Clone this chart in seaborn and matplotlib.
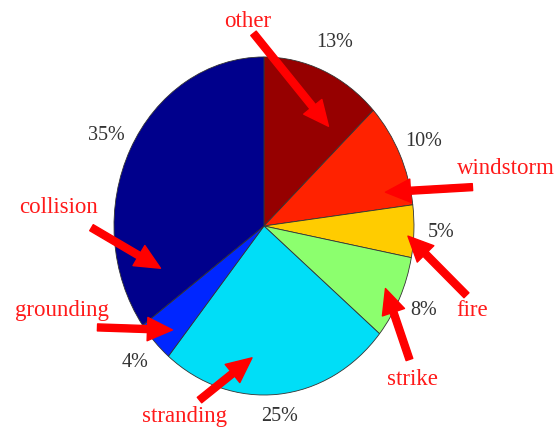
import matplotlib
matplotlib.use("Agg")
import matplotlib.pyplot as plt
import seaborn as sns

sns.set_theme(style="white")
plt.rcParams['font.family'] = ['Liberation Serif', 'DejaVu Serif']

# slices, clockwise from 12 o'clock
categories = ['other', 'windstorm', 'fire', 'strike', 'stranding', 'grounding', 'collision']
shares = [13, 10, 5, 8, 25, 4, 35]
slice_colors = ['#960000', '#ff2200', '#ffcc00', '#8cff6e', '#00def7', '#0026ff', '#00008c']

# where each red label sits and where its arrow runs (pie radius units)
label_pos = {
    'other': (-0.11, 1.21),
    'windstorm': (1.61, 0.34),
    'fire': (1.39, -0.50),
    'strike': (0.99, -0.91),
    'stranding': (-0.53, -1.13),
    'grounding': (-1.35, -0.50),
    'collision': (-1.37, 0.11),
}
arrow_pos = {
    'other': ((-0.07, 1.14), (0.43, 0.59)),
    'windstorm': ((1.39, 0.23), (0.81, 0.20)),
    'fire': ((1.35, -0.41), (0.96, -0.06)),
    'strike': ((0.97, -0.79), (0.81, -0.37)),
    'stranding': ((-0.43, -1.03), (-0.08, -0.78)),
    'grounding': ((-1.11, -0.60), (-0.61, -0.615)),
    'collision': ((-1.15, -0.01), (-0.69, -0.25)),
}


def draw_chart():
    fig = plt.figure(figsize=(5.59, 4.30), dpi=100)
    ax = fig.add_axes([0, 0, 1, 1])

    wedges, texts, pcts = ax.pie(
        shares, colors=slice_colors, startangle=90, counterclock=False,
        autopct='%d%%', pctdistance=1.18,
        wedgeprops=dict(edgecolor='#333333', linewidth=0.6),
        textprops=dict(fontsize=14.5, color='#333333'),
    )
    # the bottom label sits a little closer in the original
    x, y = pcts[4].get_position()
    pcts[4].set_position((x * 1.13 / 1.18, y * 1.13 / 1.18))

    # picture is a bit taller than wide, so let the pie stretch
    ax.set_aspect('auto')
    ax.set_xlim(-1.76, 1.967)
    ax.set_ylim(-1.207, 1.337)
    ax.axis('off')

    for name in categories:
        tx, ty = label_pos[name]
        ax.text(tx, ty, name, color='#ff1a1a', fontsize=16.5, ha='center', va='center')
        tail, head = arrow_pos[name]
        ax.annotate('', xy=head, xytext=tail,
                    arrowprops=dict(arrowstyle='simple,head_length=1.5,head_width=1.4,tail_width=0.42',
                                    color='#ff0000', mutation_scale=12, shrinkA=0, shrinkB=0))

    fig.savefig('out.png', dpi=100, facecolor='white')
    plt.close(fig)


if __name__ == "__main__":
    draw_chart()
